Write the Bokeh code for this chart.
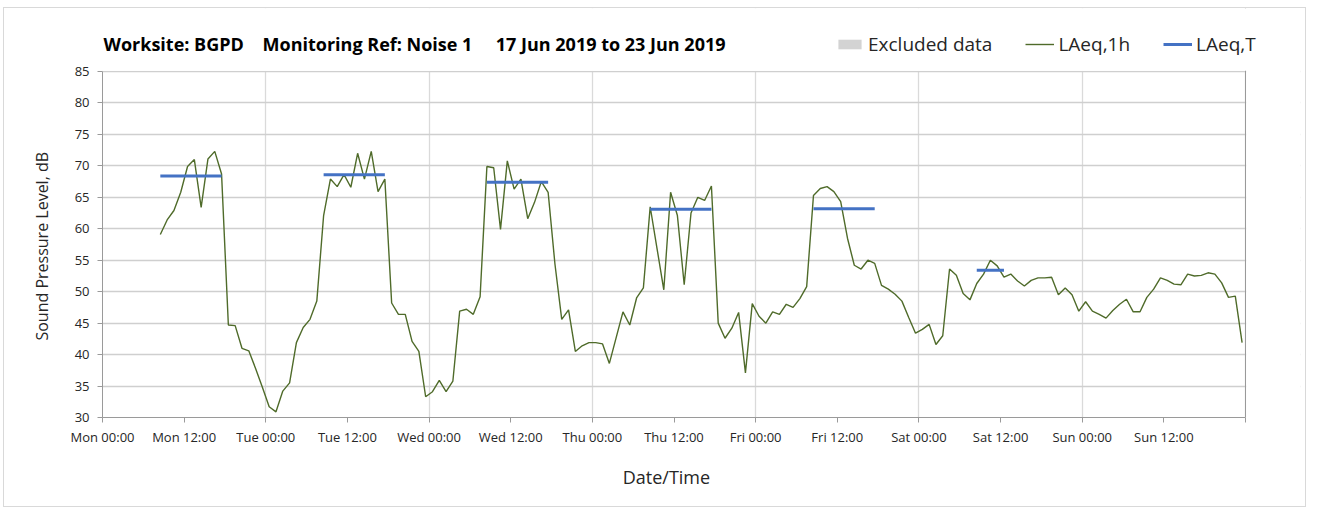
from bokeh.plotting import figure
from bokeh.models import (FixedTicker, Legend, LegendItem, Span, ColumnDataSource,
                          BoxAnnotation, Label)
from bokeh.embed import file_html
from bokeh.resources import INLINE

# ---- data ----
first_hour = 8.5  # Mon 08:30, hours since Mon 00:00
laeq_1h = [
    # Mon 08:30 ..
    59.1, 61.4, 62.9, 65.8, 69.9, 71.0, 63.4, 71.1, 72.3, 68.7,
    44.7, 44.6, 41.0, 40.6, 37.8, 34.8,
    # Tue 00:30 ..
    31.7, 30.9, 34.2, 35.5, 41.9, 44.3, 45.6, 48.5,
    62.1, 67.9, 66.7, 68.6, 66.6, 72.0, 67.9, 72.3, 65.9, 67.9,
    48.2, 46.4, 46.4, 42.1, 40.5, 33.3,
    # Wed 00:30 ..
    34.1, 35.9, 34.1, 35.8, 46.9, 47.2, 46.4, 49.2,
    69.9, 69.7, 59.9, 70.8, 66.3, 67.9, 61.6, 64.2, 67.5, 65.8,
    54.4, 45.6, 47.1, 40.5, 41.4, 41.9,
    # Thu 00:30 ..
    41.9, 41.7, 38.6, 42.7, 46.8, 44.7, 49.0, 50.6,
    63.5, 56.9, 50.3, 65.8, 62.1, 51.1, 62.5, 65.0, 64.5, 66.8,
    45.0, 42.6, 44.2, 46.7, 37.1, 48.1,
    # Fri 00:30 ..
    46.1, 45.0, 46.8, 46.4, 48.0, 47.5, 48.9, 50.8,
    65.3, 66.4, 66.7, 65.9, 64.3, 58.5, 54.2, 53.6, 55.0, 54.5,
    51.0, 50.4, 49.6, 48.5, 45.9, 43.4,
    # Sat 00:30 ..
    44.0, 44.8, 41.6, 43.0, 53.6, 52.6, 49.7, 48.7,
    51.3, 52.8, 55.0, 54.1, 52.3, 52.8, 51.7, 50.9, 51.8, 52.2,
    52.2, 52.3, 49.5, 50.6, 49.5, 46.9,
    # Sun 00:30 ..
    48.4, 46.9, 46.4, 45.8, 47.0, 48.0, 48.8, 46.8,
    46.8, 49.1, 50.4, 52.2, 51.8, 51.2, 51.1, 52.8, 52.5, 52.6,
    53.0, 52.8, 51.4, 49.1, 49.3, 41.9,
]
hours = [first_hour + i for i in range(len(laeq_1h))]

# LAeq,T periods (start hour, end hour, level)
laeqT_start = [8.5, 32.5, 56.5, 80.5, 104.5, 128.5]
laeqT_end = [17.5, 41.5, 65.5, 89.5, 113.5, 132.5]
laeqT_level = [68.4, 68.6, 67.4, 63.1, 63.2, 53.4]

# excluded data periods (none in this week)
excl_start = [float("nan")]
excl_end = [float("nan")]

tick_hours = [0, 12, 24, 36, 48, 60, 72, 84, 96, 108, 120, 132, 144, 156, 168]
tick_labels = ["Mon 00:00", "Mon 12:00", "Tue 00:00", "Tue 12:00", "Wed 00:00",
               "Wed 12:00", "Thu 00:00", "Thu 12:00", "Fri 00:00", "Fri 12:00",
               "Sat 00:00", "Sat 12:00", "Sun 00:00", "Sun 12:00", ""]
day_hours = [0, 24, 48, 72, 96, 120, 144, 168]
y_ticks = [30, 35, 40, 45, 50, 55, 60, 65, 70, 75, 80, 85]
X_MIN, X_MAX = 0, 168
Y_MIN, Y_MAX = 30, 85

title_text = ("Worksite: BGPD\u00a0\u00a0\u00a0 Monitoring Ref: Noise 1"
              "\u00a0\u00a0\u00a0\u00a0 17 Jun 2019 to 23 Jun 2019")
NB = "\u00a0"

FONT = "Open Sans"

# canvas sits at page (4, 8) inside a thin border
OX, OY = 4, 8
W, H = 1303, 500
axis_left = 102 - OX          # 168 h span: page x 102 .. 1245
axis_right = 1245 - OX
frame_right = 1300 - OX       # frame extended (masked) so the header fits inside it
frame_bottom = 417 - OY
y85 = 71 - OY
frame_h = frame_bottom
y_top = Y_MIN + (Y_MAX - Y_MIN) * frame_h / (frame_h - y85)
x_end = X_MIN + (X_MAX - X_MIN) * (frame_right - axis_left) / (axis_right - axis_left)

p = figure(width=W, height=H, output_backend="svg", toolbar_location=None,
           x_range=(X_MIN, x_end), y_range=(Y_MIN, y_top), title=None,
           min_border_left=axis_left, min_border_right=W - frame_right,
           min_border_top=0, min_border_bottom=H - frame_bottom)
p.outline_line_color = None
p.background_fill_color = "white"
p.border_fill_color = "white"
p.styles = {"border": "1px solid #d9d9d9", "margin-left": "3px", "margin-top": "7px"}

# axes
p.xaxis.ticker = FixedTicker(ticks=tick_hours)
p.xaxis.bounds = (X_MIN, X_MAX)
p.xaxis.major_label_overrides = {h: l for h, l in zip(tick_hours, tick_labels)}
p.xaxis.minor_tick_line_color = None
p.xaxis.major_tick_out = 5
p.xaxis.major_tick_in = 0
p.xaxis.axis_label = "Date/Time" + NB * 15
p.xaxis.axis_label_standoff = 16
p.xaxis.major_label_standoff = 5

p.yaxis.ticker = FixedTicker(ticks=y_ticks)
p.yaxis.bounds = (Y_MIN, Y_MAX)
p.yaxis.minor_tick_line_color = None
p.yaxis.major_tick_out = 5
p.yaxis.major_tick_in = 0
p.yaxis.axis_label = "Sound Pressure Level, dB" + NB * 16
p.yaxis.axis_label_standoff = 19
p.yaxis.major_label_standoff = 8

for ax in (p.xaxis, p.yaxis):
    ax.axis_line_color = "#9a9a9a"
    ax.major_tick_line_color = "#9a9a9a"
    ax.major_label_text_font = FONT
    ax.major_label_text_font_size = "13px"
    ax.major_label_text_color = "#262626"
    ax.axis_label_text_font = FONT
    ax.axis_label_text_font_style = "normal"
    ax.axis_label_text_color = "#262626"
p.xaxis.axis_label_text_font_size = "18px"
p.yaxis.axis_label_text_font_size = "16px"

p.xgrid.ticker = FixedTicker(ticks=day_hours)
p.xgrid.grid_line_color = "#dadada"
p.xgrid.grid_line_width = 1.3
p.ygrid.ticker = FixedTicker(ticks=y_ticks)
p.ygrid.grid_line_color = "#cfcfcf"
p.ygrid.grid_line_width = 1.3

# white masks above 85 dB and right of Mon 00:00 (header area)
p.add_layout(BoxAnnotation(bottom=Y_MAX + 0.12, fill_color="white", fill_alpha=1,
                           line_color=None, level="underlay"))
p.add_layout(BoxAnnotation(left=X_MAX + 0.1, fill_color="white", fill_alpha=1,
                           line_color=None, level="underlay"))
# right edge of plot area
p.add_layout(Span(location=X_MAX, dimension="height", line_color="#9a9a9a",
                  line_width=1, level="underlay"))
p.add_layout(BoxAnnotation(bottom=Y_MAX + 0.12, fill_color="white", fill_alpha=1,
                           line_color=None, level="underlay"))

# glyphs
excl = p.quad(left=excl_start, right=excl_end, bottom=[Y_MIN], top=[Y_MAX],
              fill_color="#d3d3d3", line_color=None)
src = ColumnDataSource(dict(x=hours, y=laeq_1h))
l1 = p.line("x", "y", source=src, line_color="#4F6B2A", line_width=1.4)
srcT = ColumnDataSource(dict(x0=laeqT_start, x1=laeqT_end, y=laeqT_level))
lT = p.segment(x0="x0", y0="y", x1="x1", y1="y", source=srcT, line_color="#4472C4", line_width=3)

# header title
p.add_layout(Label(x=1, y=frame_h - (43 - OY), x_units="screen", y_units="screen",
                   text=title_text, text_font=FONT, text_font_size="18px",
                   text_font_style="bold", text_color="black", text_baseline="middle"))

legend = Legend(items=[LegendItem(label="Excluded data", renderers=[excl]),
                       LegendItem(label="LAeq,1h", renderers=[l1]),
                       LegendItem(label="LAeq,T", renderers=[lT])],
                orientation="horizontal", location=(835 - 102, frame_h - (57 - OY)))
legend.glyph_width = 29
legend.glyph_height = 12
legend.label_standoff = 4
legend.spacing = 33
legend.padding = 0
legend.margin = 0
legend.border_line_color = None
legend.background_fill_alpha = 0
legend.label_text_font = FONT
legend.label_text_font_size = "19px"
legend.label_text_color = "#262626"
p.add_layout(legend, "center")

open("out.html", "w").write(file_html(p, INLINE))
